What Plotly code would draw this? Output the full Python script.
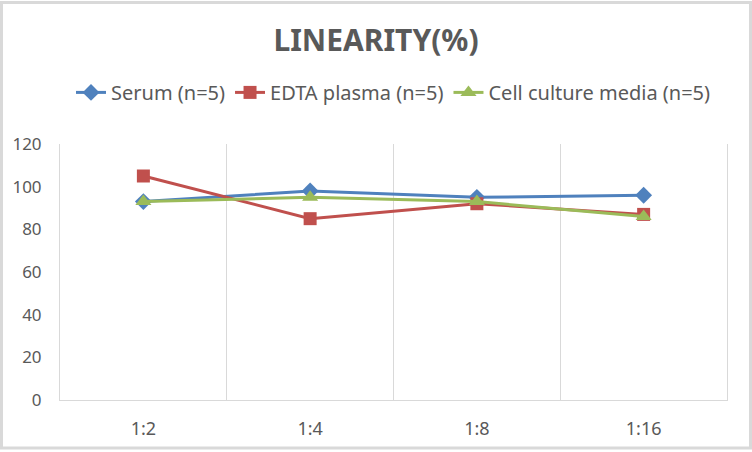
import plotly.graph_objects as go

categories = ["1:2", "1:4", "1:8", "1:16"]
serum = [93, 98, 95, 96]
edta = [105, 85, 92, 87]
cell = [93, 95, 93, 86]
y_ticks = [0, 20, 40, 60, 80, 100, 120]

W, H = 752, 452
ml, mr, mt, mb = 60, 25, 144, 50
pw, ph = W - ml - mr, H - mt - mb

fig = go.Figure()
series = [
    ("Serum (n=5)", serum, "#4F81BD", "diamond", 13),
    ("EDTA plasma (n=5)", edta, "#C0504D", "square", 13),
    ("Cell culture media (n=5)", cell, "#9BBB59", "triangle-up", 14),
]
for name, vals, col, sym, sz in series:
    fig.add_trace(go.Scatter(
        x=categories, y=vals, name=name, mode="lines+markers",
        line=dict(color=col, width=3),
        marker=dict(symbol=sym, size=sz, color=col),
    ))

gray = "#595959"
fig.update_layout(
    width=W, height=H,
    margin=dict(l=ml, r=mr, t=mt, b=mb),
    paper_bgcolor="white", plot_bgcolor="white",
    font=dict(family="Noto Sans, Open Sans, sans-serif", color=gray, size=17),
    title=dict(text="<b>LINEARITY(%)</b>", x=0.5, xanchor="center",
               y=1 - 40 / H, yanchor="middle",
               font=dict(size=30, color=gray)),
    legend=dict(orientation="h", x=0.5, xanchor="center",
                y=1 + (mt - 92) / ph, yanchor="middle",
                font=dict(size=20, color=gray),
                tracegroupgap=0, traceorder="normal"),
    showlegend=True,
    xaxis=dict(type="category", range=[-0.5, 3.5], tickson="boundaries",
               showgrid=True, gridcolor="#D9D9D9", gridwidth=1,
               showline=True, linecolor="#D9D9D9", linewidth=1,
               ticks="", ticklen=0, tickfont=dict(size=18, color=gray),
               zeroline=False, ticklabelstandoff=12),
    yaxis=dict(range=[0, 120], tickvals=y_ticks, showgrid=False,
               showline=True, linecolor="#D9D9D9", linewidth=1, mirror=True,
               ticks="", tickfont=dict(size=17, color=gray), zeroline=False,
               ticklabelstandoff=14),
    shapes=[dict(type="rect", xref="paper", yref="paper",
                 x0=-(ml - 1.5) / pw, x1=1 + (mr - 1.5) / pw,
                 y0=-(mb - 1.5) / ph, y1=1 + (mt - 1.5) / ph,
                 line=dict(color="#D9D9D9", width=3), layer="below")],
)

fig.write_html("out.html", config={"displayModeBar": False},
               post_script="document.body.style.margin='0';")
